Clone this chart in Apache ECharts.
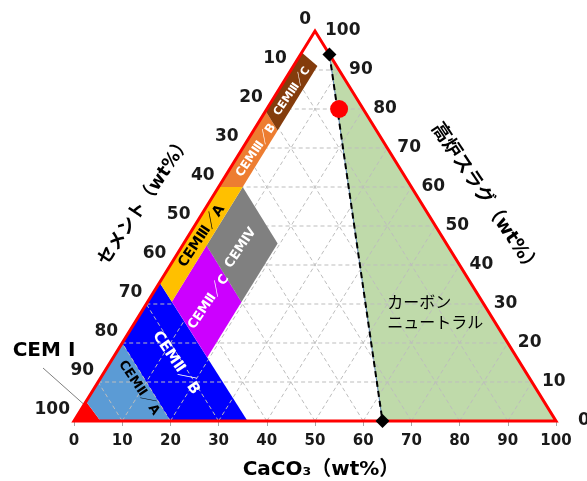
<!DOCTYPE html>
<html>
<head>
<meta charset="utf-8">
<script src="https://cdn.jsdelivr.net/npm/echarts@6/dist/echarts.min.js"></script>
<style>
  html, body { margin: 0; padding: 0; background: #fff; }
  #chart { width: 587px; height: 481px; }
</style>
</head>
<body>
<div id="chart"></div>
<script>
// every point is [CaCO3, slag] in wt%; cement = 100 - CaCO3 - slag
const gridTicks = [10, 20, 30, 40, 50, 60, 70, 80, 90];
const edgeTicks = [0, 10, 20, 30, 40, 50, 60, 70, 80, 90, 100];

const cemI = [[0, 0], [5.5, 0], [0, 5]];
const cemIIA = [[0, 5], [5.5, 0], [20, 0], [0, 20]];
const cemIIB = [[0, 20], [20, 0], [36, 0], [0, 35.5]];
const cemIIC = [[5, 30.6], [19.5, 16.3], [19.5, 30.5], [5, 45]];
const cemIIIA = [[0, 35.5], [5, 30.6], [5, 60], [0, 60]];
const cemIIIB = [[0, 60], [5, 60], [5, 74.5], [0, 79.5]];
const cemIIIC = [[0, 79.5], [5, 74.5], [5, 91], [0, 94.5]];
const cemIV = [[5, 45], [19.5, 30.5], [19.5, 45.5], [5, 60]];
const carbonNeutral = [[6, 94], [64, 0], [100, 0]];
const limitLine = [[6, 94], [64, 0]];
const sample = [[15, 80]];
const frame = [[0, 0], [100, 0], [0, 100]];

const NUM_FONT = '"DejaVu Sans", "Noto Sans CJK JP"';

// ternary -> cartesian (x along CaCO3 axis, y = slag)
function tern(p) {
  return [p[0] + p[1] / 2, p[1]];
}

function area(pts, fill, z, stroke, width) {
  return {
    type: 'custom',
    z: z,
    silent: true,
    data: [[0, 0]],
    renderItem: function (params, api) {
      return {
        type: 'polygon',
        shape: { points: pts.map(p => api.coord(tern(p))) },
        style: { fill: fill, stroke: stroke || null, lineWidth: width || 1, lineJoin: 'miter' }
      };
    }
  };
}

// text inside the regions
const tags = [
  { text: 'CEMⅢ／C', at: [3, 84.5], size: 11, color: '#fff', rot: 56 },
  { text: 'CEMⅢ／B', at: [3.1, 69.4], size: 12, color: '#fff', rot: 56 },
  { text: 'CEMⅢ／A', at: [2.8, 47.4], size: 14, color: '#000', rot: 56 },
  { text: 'CEMⅣ', at: [12.4, 44.4], size: 13, color: '#fff', rot: 56 },
  { text: 'CEMⅡ／C', at: [12.7, 30.5], size: 13, color: '#fff', rot: 56 },
  { text: 'CEMⅡ／B', at: [13.7, 14.9], size: 15, color: '#fff', rot: -56 },
  { text: 'CEMⅡ／A', at: [9.2, 8.5], size: 13, color: '#000', rot: -56 }
];

const chart = echarts.init(document.getElementById('chart'));

const option = {
  animation: false,
  grid: { left: 74, right: 31, top: 31, bottom: 60, containLabel: false, outerBoundsMode: 'none' },
  xAxis: {
    type: 'value', min: 0, max: 100, interval: 10,
    axisLine: { show: false },
    axisTick: { show: true, length: 5, lineStyle: { color: '#A6A6A6' } },
    splitLine: { show: false },
    axisLabel: { margin: 13, color: '#1a1a1a', fontSize: 15, fontWeight: 'bold', fontFamily: 'DejaVu Sans' }
  },
  yAxis: { type: 'value', min: 0, max: 100, show: false },
  series: [
    area(carbonNeutral, '#BFDAAA', 1, '#5B82AE', 1),
    area(cemI, '#FF0000', 2),
    area(cemIIA, '#5B9BD5', 2),
    area(cemIIB, '#0000FF', 2),
    // dashed grid in the three directions
    {
      type: 'custom', z: 3, silent: true, data: [[0, 0]],
      renderItem: function (params, api) {
        const segs = [];
        gridTicks.forEach(t => {
          segs.push([[0, t], [100 - t, t]]);
          segs.push([[t, 0], [t, 100 - t]]);
          segs.push([[100 - t, 0], [0, 100 - t]]);
        });
        return {
          type: 'group',
          children: segs.map(s => {
            const a = api.coord(tern(s[0])), b = api.coord(tern(s[1]));
            return {
              type: 'line',
              shape: { x1: a[0], y1: a[1], x2: b[0], y2: b[1] },
              style: { stroke: '#BDBDBD', lineWidth: 1, lineDash: [4, 3] }
            };
          })
        };
      }
    },
    area(cemIIC, '#CC00FF', 4),
    area(cemIV, '#808080', 4),
    area(cemIIIA, '#FFC000', 4),
    area(cemIIIB, '#ED7D31', 4),
    area(cemIIIC, '#843C0C', 4),
    {
      type: 'line', z: 6, silent: true,
      data: limitLine.map(tern),
      symbol: 'none',
      lineStyle: { color: '#000', width: 2, type: [6, 4] }
    },
    area(frame, null, 7, '#FF0000', 3),
    {
      type: 'scatter', z: 8, silent: true,
      data: limitLine.map(tern),
      symbol: 'diamond', symbolSize: 14,
      itemStyle: { color: '#000', opacity: 1 }
    },
    {
      type: 'scatter', z: 8, silent: true,
      data: sample.map(tern),
      symbolSize: 18,
      itemStyle: { color: '#FF0000', opacity: 1 }
    },
    // region names + edge tick labels
    {
      type: 'custom', z: 9, silent: true, data: [[0, 0]],
      renderItem: function (params, api) {
        const kids = [];
        tags.forEach(t => {
          const p = api.coord(tern(t.at));
          kids.push({
            type: 'text', x: p[0], y: p[1], rotation: t.rot * Math.PI / 180,
            style: {
              text: t.text, fill: t.color, align: 'center', verticalAlign: 'middle',
              font: 'bold ' + t.size + 'px ' + NUM_FONT
            }
          });
        });
        edgeTicks.forEach(v => {
          const l = api.coord(tern([0, 100 - v]));
          kids.push({
            type: 'text', x: l[0] - 4, y: l[1] - 11,
            style: { text: String(v), fill: '#1a1a1a', align: 'right', verticalAlign: 'middle', font: 'bold 17px ' + NUM_FONT }
          });
          const r = api.coord(tern([100 - v, v]));
          kids.push({
            type: 'text', x: r[0] + (v === 0 ? 22 : 10), y: r[1],
            style: { text: String(v), fill: '#1a1a1a', align: 'left', verticalAlign: 'middle', font: 'bold 17px ' + NUM_FONT }
          });
        });
        const cn = api.coord(tern([51, 28]));
        kids.push({
          type: 'text', x: cn[0], y: cn[1],
          style: {
            text: 'カーボン\nニュートラル', fill: '#000', align: 'left', verticalAlign: 'middle',
            font: '16px "Noto Sans CJK JP"', lineHeight: 20
          }
        });
        return { type: 'group', children: kids };
      }
    }
  ],
  graphic: [
    {
      type: 'text', x: 321, y: 470,
      style: { text: 'CaCO₃（wt%）', fill: '#000', align: 'center', verticalAlign: 'middle', font: 'bold 20px ' + NUM_FONT }
    },
    {
      type: 'text', x: 145, y: 201, rotation: 56 * Math.PI / 180,
      style: { text: 'セメント（wt%）', fill: '#000', align: 'center', verticalAlign: 'middle', font: 'bold 18px ' + NUM_FONT }
    },
    {
      type: 'text', x: 485, y: 199, rotation: -56 * Math.PI / 180,
      style: { text: '高炉スラグ（wt%）', fill: '#000', align: 'center', verticalAlign: 'middle', font: 'bold 19px ' + NUM_FONT }
    },
    {
      type: 'text', x: 44, y: 351,
      style: { text: 'CEM Ⅰ', fill: '#000', align: 'center', verticalAlign: 'middle', font: 'bold 20px ' + NUM_FONT }
    },
    {
      type: 'line', shape: { x1: 43, y1: 368, x2: 88, y2: 408 },
      style: { stroke: '#7F7F7F', lineWidth: 1 }
    }
  ]
};

chart.setOption(option);
</script>
</body>
</html>
